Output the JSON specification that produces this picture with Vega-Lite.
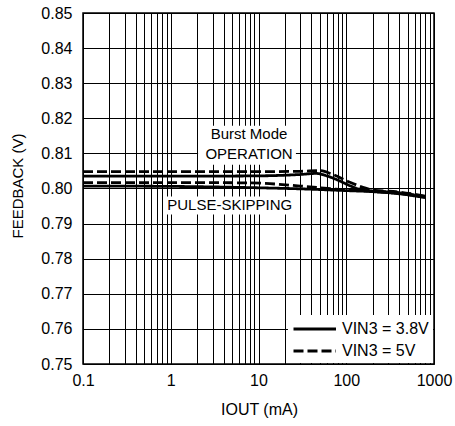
{
  "$schema": "https://vega.github.io/schema/vega-lite/v6.json",
  "autosize": {"type": "none"},
  "padding": {"left": 83, "top": 13, "right": 21, "bottom": 62},
  "width": 351,
  "height": 351,
  "background": "white",
  "config": {
    "font": "Liberation Sans",
    "view": {"stroke": "#000", "strokeWidth": 1.5},
    "axis": {
      "labelFont": "Liberation Sans",
      "labelFontSize": 16,
      "labelColor": "#000",
      "titleFont": "Liberation Sans",
      "titleFontWeight": "normal",
      "titleColor": "#000",
      "gridColor": "#000",
      "gridOpacity": 1,
      "gridWidth": 1,
      "domain": false,
      "ticks": false,
      "labelFlush": false,
      "labelOverlap": false
    },
    "legend": {
      "labelFont": "Liberation Sans",
      "labelFontSize": 16,
      "labelColor": "#000"
    }
  },
  "datasets": {
    "boxes": [
      {"x0": 2.05, "x1": 26.7, "y0": 0.8068, "y1": 0.8179},
      {"x0": 0.82, "x1": 28, "y0": 0.7926, "y1": 0.7977}
    ],
    "notes": [
      {"label": "Burst Mode", "iout": 7.8, "fb": 0.8154},
      {"label": "OPERATION", "iout": 7.8, "fb": 0.8099},
      {"label": "PULSE-SKIPPING", "iout": 4.7, "fb": 0.7952}
    ],
    "curves": [
      {"series": "3.8V Burst", "vin": "3.8V", "iout": 0.1, "fb": 0.8035},
      {"series": "3.8V Burst", "vin": "3.8V", "iout": 1, "fb": 0.8035},
      {"series": "3.8V Burst", "vin": "3.8V", "iout": 10, "fb": 0.8036},
      {"series": "3.8V Burst", "vin": "3.8V", "iout": 30, "fb": 0.8040},
      {"series": "3.8V Burst", "vin": "3.8V", "iout": 45, "fb": 0.8043},
      {"series": "3.8V Burst", "vin": "3.8V", "iout": 60, "fb": 0.8036},
      {"series": "3.8V Burst", "vin": "3.8V", "iout": 80, "fb": 0.8024},
      {"series": "3.8V Burst", "vin": "3.8V", "iout": 110, "fb": 0.8008},
      {"series": "3.8V Burst", "vin": "3.8V", "iout": 150, "fb": 0.7996},
      {"series": "3.8V Burst", "vin": "3.8V", "iout": 200, "fb": 0.7992},
      {"series": "3.8V Burst", "vin": "3.8V", "iout": 400, "fb": 0.7986},
      {"series": "3.8V Burst", "vin": "3.8V", "iout": 800, "fb": 0.7975},
      {"series": "3.8V PS", "vin": "3.8V", "iout": 0.1, "fb": 0.8007},
      {"series": "3.8V PS", "vin": "3.8V", "iout": 1, "fb": 0.8006},
      {"series": "3.8V PS", "vin": "3.8V", "iout": 10, "fb": 0.8002},
      {"series": "3.8V PS", "vin": "3.8V", "iout": 30, "fb": 0.7999},
      {"series": "3.8V PS", "vin": "3.8V", "iout": 100, "fb": 0.7994},
      {"series": "3.8V PS", "vin": "3.8V", "iout": 200, "fb": 0.7991},
      {"series": "3.8V PS", "vin": "3.8V", "iout": 400, "fb": 0.7985},
      {"series": "3.8V PS", "vin": "3.8V", "iout": 800, "fb": 0.7974},
      {"series": "5V Burst", "vin": "5V", "iout": 0.1, "fb": 0.8048},
      {"series": "5V Burst", "vin": "5V", "iout": 1, "fb": 0.8048},
      {"series": "5V Burst", "vin": "5V", "iout": 10, "fb": 0.8048},
      {"series": "5V Burst", "vin": "5V", "iout": 30, "fb": 0.8049},
      {"series": "5V Burst", "vin": "5V", "iout": 50, "fb": 0.8051},
      {"series": "5V Burst", "vin": "5V", "iout": 70, "fb": 0.8040},
      {"series": "5V Burst", "vin": "5V", "iout": 110, "fb": 0.8018},
      {"series": "5V Burst", "vin": "5V", "iout": 155, "fb": 0.8003},
      {"series": "5V Burst", "vin": "5V", "iout": 200, "fb": 0.7996},
      {"series": "5V Burst", "vin": "5V", "iout": 400, "fb": 0.7990},
      {"series": "5V Burst", "vin": "5V", "iout": 800, "fb": 0.7978},
      {"series": "5V PS", "vin": "5V", "iout": 0.1, "fb": 0.8017},
      {"series": "5V PS", "vin": "5V", "iout": 1, "fb": 0.8017},
      {"series": "5V PS", "vin": "5V", "iout": 8, "fb": 0.8016},
      {"series": "5V PS", "vin": "5V", "iout": 30, "fb": 0.8007},
      {"series": "5V PS", "vin": "5V", "iout": 70, "fb": 0.7999},
      {"series": "5V PS", "vin": "5V", "iout": 100, "fb": 0.7996},
      {"series": "5V PS", "vin": "5V", "iout": 200, "fb": 0.7993},
      {"series": "5V PS", "vin": "5V", "iout": 400, "fb": 0.7988},
      {"series": "5V PS", "vin": "5V", "iout": 800, "fb": 0.7977}
    ]
  },
  "layer": [
    {
      "data": {"name": "boxes"},
      "mark": {"type": "rect", "fill": "white"},
      "encoding": {
        "x": {
          "field": "x0", "type": "quantitative",
          "scale": {"type": "log", "domain": [0.1, 1000], "nice": false},
          "axis": {
            "title": "IOUT (mA)",
            "titleFontSize": 16,
            "titleX": 176,
            "titleY": 45,
            "titleBaseline": "middle",
            "labelPadding": 8,
            "tickCount": 100,
            "values": [0.1, 0.2, 0.3, 0.4, 0.5, 0.6, 0.7, 0.8, 0.9, 1, 2, 3, 4, 5, 6, 7, 8, 9, 10, 20, 30, 40, 50, 60, 70, 80, 90, 100, 200, 300, 400, 500, 600, 700, 800, 900, 1000],
            "labelExpr": "datum.value == 0.1 ? '0.1' : datum.value == 1 ? '1' : datum.value == 10 ? '10' : datum.value == 100 ? '100' : datum.value == 1000 ? '1000' : ''"
          }
        },
        "x2": {"field": "x1"},
        "y": {
          "field": "y0", "type": "quantitative",
          "scale": {"domain": [0.75, 0.85], "nice": false, "zero": false},
          "axis": {
            "title": "FEEDBACK (V)",
            "titleFontSize": 15,
            "titleAngle": -90,
            "titleX": -66,
            "titleY": 172.5,
            "titleAlign": "center",
            "titleBaseline": "middle",
            "labelPadding": 11,
            "format": ".2f",
            "tickCount": 20,
            "values": [0.75, 0.76, 0.77, 0.78, 0.79, 0.80, 0.81, 0.82, 0.83, 0.84, 0.85]
          }
        },
        "y2": {"field": "y1"}
      }
    },
    {
      "data": {"name": "curves"},
      "mark": {"type": "line", "color": "#000", "strokeWidth": 2.8, "interpolate": "monotone"},
      "encoding": {
        "x": {"field": "iout", "type": "quantitative"},
        "y": {"field": "fb", "type": "quantitative"},
        "detail": {"field": "series"},
        "strokeDash": {
          "field": "vin", "type": "nominal",
          "scale": {"domain": ["3.8V", "5V"], "range": [[1, 0], [10, 4]]},
          "legend": {
            "title": null,
            "orient": "bottom-right",
            "offset": 1,
            "fillColor": "white",
            "padding": 4,
            "rowPadding": 4,
            "symbolType": "M-1,0H4",
            "symbolSize": 289,
            "symbolStrokeWidth": 3,
            "symbolStrokeColor": "#000",
            "labelOffset": 30,
            "labelExpr": "'VIN3 = ' + datum.label"
          }
        }
      }
    },
    {
      "data": {"name": "notes"},
      "mark": {"type": "text", "fontSize": 15, "font": "Liberation Sans", "color": "#000", "baseline": "middle"},
      "encoding": {
        "x": {"field": "iout", "type": "quantitative"},
        "y": {"field": "fb", "type": "quantitative"},
        "text": {"field": "label"}
      }
    }
  ]
}
